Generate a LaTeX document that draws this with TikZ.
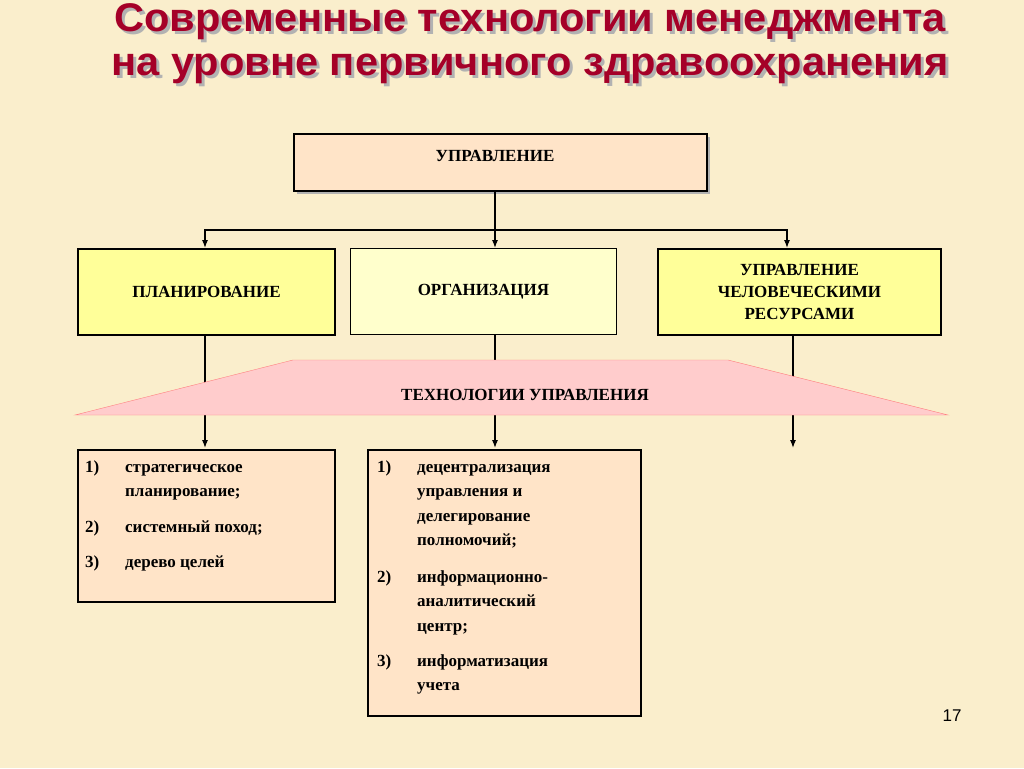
\documentclass[tikz,border=0pt]{standalone}
\usepackage{fontspec}
\setmainfont{Liberation Serif}
\newfontfamily\titlefont{Liberation Sans}
\usetikzlibrary{arrows.meta, positioning}
\definecolor{bgcol}{RGB}{250,238,204}
\definecolor{peach}{RGB}{255,228,200}
\definecolor{yel}{RGB}{255,255,153}
\definecolor{ltyel}{RGB}{255,255,204}
\definecolor{pinkc}{RGB}{255,204,204}
\definecolor{titlered}{RGB}{165,0,40}
\newcommand*{\entry}[2]{\begin{tabular}{@{}p{40pt}@{}l@{}}#1 & #2\end{tabular}}
\tikzstyle{block} = [draw, line width=2pt, rectangle, align=center, inner sep=2pt, font=\fontsize{17}{22}\selectfont\bfseries]
\tikzstyle{listbox} = [draw, line width=2pt, rectangle, fill=peach, inner sep=0pt]
\tikzstyle{path} = [-{Latex[length=8pt,width=6pt]}, line width=1.2pt]
\tikzstyle{heading} = [font=\titlefont\fontsize{40}{42}\selectfont\bfseries, xscale=1.04]
\begin{document}
\begin{tikzpicture}[x=1pt, y=-1pt]
    \useasboundingbox (0,0) rectangle (1024,768);
    \fill [bgcol] (0,0) rectangle (1024,768);

    % Title.
    \foreach \txt/\yy in {Современные технологии менеджмента/22, на уровне первичного здравоохранения/69} {
        \node [heading, text=gray!60] at (533,\yy+3) {\txt};
        \node [heading, text=titlered] at (530,\yy) {\txt};
    }

    % Boxes.
    \fill [gray!60] (297,137) rectangle (710,194);
    \node (top) [block, fill=peach, minimum width=413pt, minimum height=57pt, anchor=north west] at (293,133) {};
    \node at (495,156) [font=\fontsize{17}{22}\selectfont\bfseries] {УПРАВЛЕНИЕ};
    \node (plan) [block, fill=yel, minimum width=257pt, minimum height=86pt, anchor=north west] at (77,248) {ПЛАНИРОВАНИЕ};
    \node (org) [block, fill=ltyel, line width=0.8pt, minimum width=266pt, minimum height=86pt, anchor=north west] at (350,248) {ОРГАНИЗАЦИЯ};
    \node (hr) [block, fill=yel, minimum width=283pt, minimum height=86pt, anchor=north west] at (657,248) {УПРАВЛЕНИЕ\\ЧЕЛОВЕЧЕСКИМИ\\РЕСУРСАМИ};

    % Arrows.
    \coordinate (split) at (495,230);
    \draw [line width=1.2pt] (top.south -| split) -- (split);
    \draw [path] (split) -- (org.north -| split);
    \draw [path] (split) -| (205,248);
    \draw [path] (split) -| (787,248);
    \draw [path] (205,334) -- (205,448);
    \draw [path] (495,334) -- (495,448);
    \draw [path] (793,334) -- (793,448);

    % Technologies.
    \draw [fill=pinkc, thin, draw=red!50] (293,360) -- (728,360) -- (948,415) -- (75,415) -- cycle;
    \node (tech) at (525,395) [font=\fontsize{17}{22}\selectfont\bfseries] {ТЕХНОЛОГИИ УПРАВЛЕНИЯ};

    % Lists.
    \node (list1) [listbox, minimum width=257pt, minimum height=152pt, anchor=north west] at (77,449) {};
    \node (list2) [listbox, minimum width=273pt, minimum height=266pt, anchor=north west] at (367,449) {};
    \begin{scope}[every node/.style={anchor=north west, font=\fontsize{17}{24.5}\selectfont\bfseries, inner sep=0pt}]
        \node (plan1) at (85,455) {\entry{1)}{стратегическое\\ & планирование;}};
        \node (plan2) at (85,515) {\entry{2)}{системный поход;}};
        \node (plan3) at (85,550) {\entry{3)}{дерево целей}};
        \node (org1) at (377,455) {\entry{1)}{децентрализация\\ & управления и\\ & делегирование\\ & полномочий;}};
        \node (org2) at (377,565) {\entry{2)}{информационно-\\ & аналитический\\ & центр;}};
        \node (org3) at (377,649) {\entry{3)}{информатизация\\ & учета}};
    \end{scope}

    \node (page) at (952,716) [font=\titlefont\fontsize{17}{19}\selectfont] {17};
\end{tikzpicture}
\end{document}
